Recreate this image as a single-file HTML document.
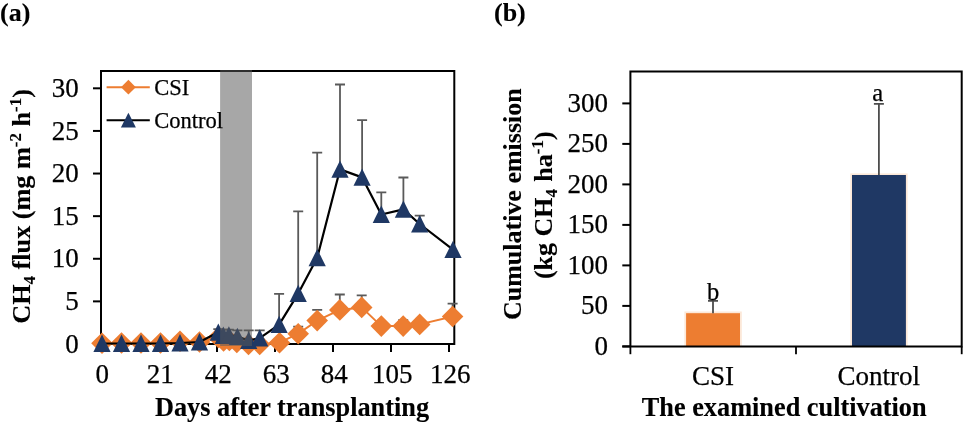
<!DOCTYPE html><html><head><meta charset="utf-8"><style>html,body{margin:0;padding:0;background:#fff;}svg{display:block;will-change:transform;}text{font-family:"Liberation Serif",serif;stroke:#000;stroke-width:0.25px;}text[font-weight="bold"]{stroke-width:0.12px;}</style></head><body>
<svg width="965" height="424" viewBox="0 0 965 424">
<rect width="965" height="424" fill="#fff"/>
<text x="0" y="20.6" font-size="26" font-weight="bold">(a)</text>
<text x="494" y="20.6" font-size="26" font-weight="bold">(b)</text>
<text transform="translate(29.6,206.4) rotate(-90)" text-anchor="middle" font-size="26.2" font-weight="bold">CH<tspan font-size="17" dy="5.3">4</tspan><tspan dy="-5.3"> flux (mg m</tspan><tspan font-size="17" dy="-8.8">-2</tspan><tspan dy="8.8"> h</tspan><tspan font-size="17" dy="-8.8">-1</tspan><tspan dy="8.8">)</tspan></text>
<line x1="93" y1="344" x2="101" y2="344" stroke="#000" stroke-width="2"/>
<text x="78.8" y="352.7" text-anchor="end" font-size="27">0</text>
<line x1="93" y1="301.38" x2="101" y2="301.38" stroke="#000" stroke-width="2"/>
<text x="78.8" y="310.08" text-anchor="end" font-size="27">5</text>
<line x1="93" y1="258.77" x2="101" y2="258.77" stroke="#000" stroke-width="2"/>
<text x="78.8" y="267.47" text-anchor="end" font-size="27">10</text>
<line x1="93" y1="216.16" x2="101" y2="216.16" stroke="#000" stroke-width="2"/>
<text x="78.8" y="224.85" text-anchor="end" font-size="27">15</text>
<line x1="93" y1="173.54" x2="101" y2="173.54" stroke="#000" stroke-width="2"/>
<text x="78.8" y="182.24" text-anchor="end" font-size="27">20</text>
<line x1="93" y1="130.93" x2="101" y2="130.93" stroke="#000" stroke-width="2"/>
<text x="78.8" y="139.62" text-anchor="end" font-size="27">25</text>
<line x1="93" y1="88.31" x2="101" y2="88.31" stroke="#000" stroke-width="2"/>
<text x="78.8" y="97.01" text-anchor="end" font-size="27">30</text>
<line x1="101" y1="344" x2="101" y2="352" stroke="#000" stroke-width="2"/>
<text x="102.3" y="383.3" text-anchor="middle" font-size="27">0</text>
<line x1="159" y1="344" x2="159" y2="352" stroke="#000" stroke-width="2"/>
<text x="160.3" y="383.3" text-anchor="middle" font-size="27">21</text>
<line x1="217" y1="344" x2="217" y2="352" stroke="#000" stroke-width="2"/>
<text x="218.3" y="383.3" text-anchor="middle" font-size="27">42</text>
<line x1="275.01" y1="344" x2="275.01" y2="352" stroke="#000" stroke-width="2"/>
<text x="276.31" y="383.3" text-anchor="middle" font-size="27">63</text>
<line x1="333.01" y1="344" x2="333.01" y2="352" stroke="#000" stroke-width="2"/>
<text x="334.31" y="383.3" text-anchor="middle" font-size="27">84</text>
<line x1="391.01" y1="344" x2="391.01" y2="352" stroke="#000" stroke-width="2"/>
<text x="392.31" y="383.3" text-anchor="middle" font-size="27">105</text>
<line x1="449.01" y1="344" x2="449.01" y2="352" stroke="#000" stroke-width="2"/>
<text x="450.31" y="383.3" text-anchor="middle" font-size="27">126</text>
<text x="292" y="415.7" text-anchor="middle" font-size="26.3" font-weight="bold">Days after transplanting</text>
<path d="M101 344V71H454.3V344H101" fill="none" stroke="#000" stroke-width="2"/>
<path d="M218.3 332.3V329.2M213.3 329.2H223.3" stroke="#5a5a5a" stroke-width="1.8" fill="none"/>
<path d="M223.3 335.5V329.7M218.3 329.7H228.3" stroke="#5a5a5a" stroke-width="1.8" fill="none"/>
<path d="M228.9 335.2V329.7M223.9 329.7H233.9" stroke="#5a5a5a" stroke-width="1.8" fill="none"/>
<path d="M237.4 336.6V330.4M232.4 330.4H242.4" stroke="#5a5a5a" stroke-width="1.8" fill="none"/>
<path d="M248.7 340.5V330.4M243.7 330.4H253.7" stroke="#5a5a5a" stroke-width="1.8" fill="none"/>
<path d="M259.7 338.2V330.3M254.7 330.3H264.7" stroke="#5a5a5a" stroke-width="1.8" fill="none"/>
<path d="M279.1 324.6V293.8M274.1 293.8H284.1" stroke="#5a5a5a" stroke-width="1.8" fill="none"/>
<path d="M298.2 293.6V211.4M293.2 211.4H303.2" stroke="#5a5a5a" stroke-width="1.8" fill="none"/>
<path d="M317.2 257.8V152.6M312.2 152.6H322.2" stroke="#5a5a5a" stroke-width="1.8" fill="none"/>
<path d="M340 169.4V84.5M335 84.5H345" stroke="#5a5a5a" stroke-width="1.8" fill="none"/>
<path d="M362.1 177.4V120.1M357.1 120.1H367.1" stroke="#5a5a5a" stroke-width="1.8" fill="none"/>
<path d="M381.3 214.5V192.4M376.3 192.4H386.3" stroke="#5a5a5a" stroke-width="1.8" fill="none"/>
<path d="M403.4 209.4V177.5M398.4 177.5H408.4" stroke="#5a5a5a" stroke-width="1.8" fill="none"/>
<path d="M419.7 224V215.7M414.7 215.7H424.7" stroke="#5a5a5a" stroke-width="1.8" fill="none"/>
<path d="M298.2 333.7V326.7M293.2 326.7H303.2" stroke="#5a5a5a" stroke-width="1.8" fill="none"/>
<path d="M317.2 320.6V309.9M312.2 309.9H322.2" stroke="#5a5a5a" stroke-width="1.8" fill="none"/>
<path d="M339.8 309.9V294.5M334.8 294.5H344.8" stroke="#5a5a5a" stroke-width="1.8" fill="none"/>
<path d="M361.7 307.4V295.3M356.7 295.3H366.7" stroke="#5a5a5a" stroke-width="1.8" fill="none"/>
<path d="M403.2 326.1V320.2M398.2 320.2H408.2" stroke="#5a5a5a" stroke-width="1.8" fill="none"/>
<path d="M452.6 316.5V303.6M447.6 303.6H457.6" stroke="#5a5a5a" stroke-width="1.8" fill="none"/>
<polyline points="102,343.2 121.5,343 141,343 160.5,343 180,341.3 199.5,342 218.3,337.5 223.6,341 229.4,340.5 236.8,342.5 248.5,344.5 259.7,344.5 279.5,342.7 298.2,333.7 317.2,320.6 339.8,309.9 361.7,307.4 381.3,326.1 403.2,326.1 419.7,324.4 452.6,316.5" fill="none" stroke="#ED7D31" stroke-width="2" stroke-linejoin="round"/>
<path d="M102 332.4L112.8 343.2L102 354L91.2 343.2Z" fill="#ED7D31"/>
<path d="M121.5 332.2L132.3 343L121.5 353.8L110.7 343Z" fill="#ED7D31"/>
<path d="M141 332.2L151.8 343L141 353.8L130.2 343Z" fill="#ED7D31"/>
<path d="M160.5 332.2L171.3 343L160.5 353.8L149.7 343Z" fill="#ED7D31"/>
<path d="M180 330.5L190.8 341.3L180 352.1L169.2 341.3Z" fill="#ED7D31"/>
<path d="M199.5 331.2L210.3 342L199.5 352.8L188.7 342Z" fill="#ED7D31"/>
<path d="M218.3 326.7L229.1 337.5L218.3 348.3L207.5 337.5Z" fill="#ED7D31"/>
<path d="M223.6 330.2L234.4 341L223.6 351.8L212.8 341Z" fill="#ED7D31"/>
<path d="M229.4 329.7L240.2 340.5L229.4 351.3L218.6 340.5Z" fill="#ED7D31"/>
<path d="M236.8 331.7L247.6 342.5L236.8 353.3L226 342.5Z" fill="#ED7D31"/>
<path d="M248.5 333.7L259.3 344.5L248.5 355.3L237.7 344.5Z" fill="#ED7D31"/>
<path d="M259.7 333.7L270.5 344.5L259.7 355.3L248.9 344.5Z" fill="#ED7D31"/>
<path d="M279.5 331.9L290.3 342.7L279.5 353.5L268.7 342.7Z" fill="#ED7D31"/>
<path d="M298.2 322.9L309 333.7L298.2 344.5L287.4 333.7Z" fill="#ED7D31"/>
<path d="M317.2 309.8L328 320.6L317.2 331.4L306.4 320.6Z" fill="#ED7D31"/>
<path d="M339.8 299.1L350.6 309.9L339.8 320.7L329 309.9Z" fill="#ED7D31"/>
<path d="M361.7 296.6L372.5 307.4L361.7 318.2L350.9 307.4Z" fill="#ED7D31"/>
<path d="M381.3 315.3L392.1 326.1L381.3 336.9L370.5 326.1Z" fill="#ED7D31"/>
<path d="M403.2 315.3L414 326.1L403.2 336.9L392.4 326.1Z" fill="#ED7D31"/>
<path d="M419.7 313.6L430.5 324.4L419.7 335.2L408.9 324.4Z" fill="#ED7D31"/>
<path d="M452.6 305.7L463.4 316.5L452.6 327.3L441.8 316.5Z" fill="#ED7D31"/>
<polyline points="102,343.5 121.5,343.5 141,343.5 160.5,343.5 180,343 199.5,342 218.3,332.3 223.3,335.5 228.9,335.2 237.4,336.6 248.7,340.5 259.7,338.2 279.1,324.6 298.2,293.6 317.2,257.8 340,169.4 362.1,177.4 381.3,214.5 403.4,209.4 419.7,224 453,249.6" fill="none" stroke="#000" stroke-width="2.2" stroke-linejoin="round"/>
<path d="M102 334.6L110.6 351.9L93.4 351.9Z" fill="#1F3864"/>
<path d="M121.5 334.6L130.1 351.9L112.9 351.9Z" fill="#1F3864"/>
<path d="M141 334.6L149.6 351.9L132.4 351.9Z" fill="#1F3864"/>
<path d="M160.5 334.6L169.1 351.9L151.9 351.9Z" fill="#1F3864"/>
<path d="M180 334.1L188.6 351.4L171.4 351.4Z" fill="#1F3864"/>
<path d="M199.5 333.1L208.1 350.4L190.9 350.4Z" fill="#1F3864"/>
<path d="M218.3 323.4L226.9 340.7L209.7 340.7Z" fill="#1F3864"/>
<path d="M223.3 326.6L231.9 343.9L214.7 343.9Z" fill="#1F3864"/>
<path d="M228.9 326.3L237.5 343.6L220.3 343.6Z" fill="#1F3864"/>
<path d="M237.4 327.7L246 345L228.8 345Z" fill="#1F3864"/>
<path d="M248.7 331.6L257.3 348.9L240.1 348.9Z" fill="#1F3864"/>
<path d="M259.7 329.3L268.3 346.6L251.1 346.6Z" fill="#1F3864"/>
<path d="M279.1 315.7L287.7 333L270.5 333Z" fill="#1F3864"/>
<path d="M298.2 284.7L306.8 302L289.6 302Z" fill="#1F3864"/>
<path d="M317.2 248.9L325.8 266.2L308.6 266.2Z" fill="#1F3864"/>
<path d="M340 160.5L348.6 177.8L331.4 177.8Z" fill="#1F3864"/>
<path d="M362.1 168.5L370.7 185.8L353.5 185.8Z" fill="#1F3864"/>
<path d="M381.3 205.6L389.9 222.9L372.7 222.9Z" fill="#1F3864"/>
<path d="M403.4 200.5L412 217.8L394.8 217.8Z" fill="#1F3864"/>
<path d="M419.7 215.1L428.3 232.4L411.1 232.4Z" fill="#1F3864"/>
<path d="M453 240.7L461.6 258L444.4 258Z" fill="#1F3864"/>
<rect x="220.1" y="70" width="31.9" height="276" fill="#585858" fill-opacity="0.53"/>
<line x1="106.6" y1="87.2" x2="149.8" y2="87.2" stroke="#ED7D31" stroke-width="2"/>
<path d="M128.4 79.8L135.8 87.2L128.4 94.6L121 87.2Z" fill="#ED7D31"/>
<text x="154.2" y="94.6" font-size="22.5">CSI</text>
<line x1="106.6" y1="120.2" x2="149.8" y2="120.2" stroke="#000" stroke-width="2"/>
<path d="M128.4 112.8L135.9 127.4L120.9 127.4Z" fill="#1F3864"/>
<text x="154.2" y="127.6" font-size="22.5">Control</text>
<text transform="rotate(-90)" font-size="26" font-weight="bold" text-anchor="middle"><tspan x="-204.2" y="521.4">Cumulative emission</tspan></text>
<text transform="translate(551.6,205.2) rotate(-90)" text-anchor="middle" font-size="26" font-weight="bold">(kg CH<tspan font-size="17" dy="5.6">4</tspan><tspan dy="-5.6" dx="0.8"> ha</tspan><tspan font-size="17" dy="-8.8">-1</tspan><tspan dy="8.8">)</tspan></text>
<line x1="622.3" y1="346.4" x2="630.4" y2="346.4" stroke="#000" stroke-width="2"/>
<text x="608.1" y="354.9" text-anchor="end" font-size="27">0</text>
<line x1="622.3" y1="305.9" x2="630.4" y2="305.9" stroke="#000" stroke-width="2"/>
<text x="608.1" y="314.4" text-anchor="end" font-size="27">50</text>
<line x1="622.3" y1="265.4" x2="630.4" y2="265.4" stroke="#000" stroke-width="2"/>
<text x="608.1" y="273.9" text-anchor="end" font-size="27">100</text>
<line x1="622.3" y1="224.9" x2="630.4" y2="224.9" stroke="#000" stroke-width="2"/>
<text x="608.1" y="233.4" text-anchor="end" font-size="27">150</text>
<line x1="622.3" y1="184.4" x2="630.4" y2="184.4" stroke="#000" stroke-width="2"/>
<text x="608.1" y="192.9" text-anchor="end" font-size="27">200</text>
<line x1="622.3" y1="143.9" x2="630.4" y2="143.9" stroke="#000" stroke-width="2"/>
<text x="608.1" y="152.4" text-anchor="end" font-size="27">250</text>
<line x1="622.3" y1="103.4" x2="630.4" y2="103.4" stroke="#000" stroke-width="2"/>
<text x="608.1" y="111.9" text-anchor="end" font-size="27">300</text>
<rect x="684.4" y="311.5" width="57.4" height="34.8" fill="#FCE8D8"/>
<rect x="686.1" y="313.2" width="53.9" height="33.1" fill="#ED7D31"/>
<rect x="850.3" y="173.4" width="57.3" height="172.9" fill="#FCE8D8"/>
<rect x="852" y="175" width="53.9" height="171.3" fill="#1F3864"/>
<path d="M713 313.2V300.8M708 300.8H718" stroke="#4d4d4d" stroke-width="1.8" fill="none"/>
<path d="M878.9 175V103.8M873.9 103.8H883.9" stroke="#4d4d4d" stroke-width="1.8" fill="none"/>
<text x="713" y="299.7" text-anchor="middle" font-size="24.5">b</text>
<text x="877.8" y="101.3" text-anchor="middle" font-size="24.5">a</text>
<path d="M630.4 346.4V71.6H961.7V346.4H622.3" fill="none" stroke="#000" stroke-width="2"/>
<line x1="630.4" y1="346.4" x2="630.4" y2="354.2" stroke="#000" stroke-width="1.8"/>
<line x1="796" y1="346.4" x2="796" y2="354.2" stroke="#000" stroke-width="1.8"/>
<line x1="961.7" y1="346.4" x2="961.7" y2="354.2" stroke="#000" stroke-width="1.8"/>
<text x="713" y="385" text-anchor="middle" font-size="27">CSI</text>
<text x="878.8" y="385" text-anchor="middle" font-size="27">Control</text>
<text x="784.2" y="416" text-anchor="middle" font-size="26.3" font-weight="bold">The examined cultivation</text>
</svg></body></html>
